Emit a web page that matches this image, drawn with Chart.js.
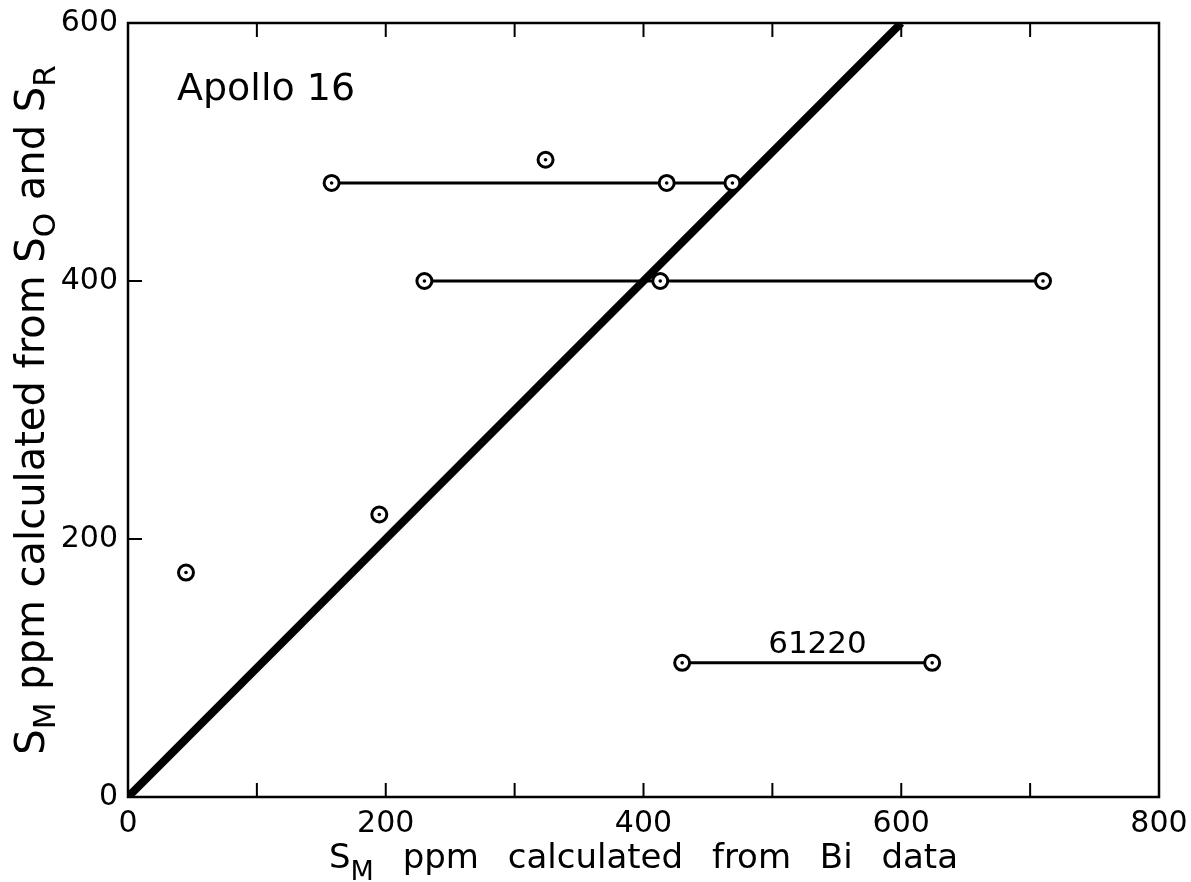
<!DOCTYPE html>
<html>
<head>
  <title>Apollo 16 - S_M comparison</title>
  <script src="https://cdn.jsdelivr.net/npm/chart.js"></script>
  <style>
    html, body { margin: 0; padding: 0; background: #fff; }
    #wrap { width: 1191px; height: 882px; }
  </style>
</head>
<body>
  <div id="wrap"><canvas id="smChart" width="1191" height="882"></canvas></div>

  <script>
    // values (ppm)
    const diagonalX = [0, 600];
    const diagonalY = [0, 600];

    const rowAX = [158, 418, 469];
    const rowAY = [476, 476, 476];

    const rowBX = [230, 413, 710];
    const rowBY = [400, 400, 400];

    const sample61220X = [430, 624];
    const sample61220Y = [104, 104];

    const singleX = [45, 195, 324];
    const singleY = [174, 219, 494];

    const xTickValues = [0, 100, 200, 300, 400, 500, 600, 700, 800];
    const yTickValues = [0, 200, 400, 600];

    const FONT = '"DejaVu Sans", sans-serif';

    function pts(xs, ys) {
      return xs.map((x, i) => ({ x: x, y: ys[i] }));
    }

    function ringSet(xs, ys, line) {
      return {
        data: pts(xs, ys),
        showLine: line,
        borderColor: '#000',
        borderWidth: 3,
        pointRadius: 7.5,
        pointBorderWidth: 3,
        pointBackgroundColor: '#fff',
        pointBorderColor: '#000',
        ringDots: true,
        order: 0
      };
    }

    // draw text with a subscript, word gaps widened by extraGap
    function richWidth(ctx, parts, size, subSize, extraGap) {
      let w = 0;
      parts.forEach(p => {
        ctx.font = (p.sub ? subSize : size) + 'px ' + FONT;
        p.text.split(' ').forEach((word, i) => {
          if (i > 0) w += ctx.measureText(' ').width + extraGap;
          w += ctx.measureText(word).width;
        });
      });
      return w;
    }

    function drawRich(ctx, parts, size, subSize, subDrop, extraGap) {
      let x = -richWidth(ctx, parts, size, subSize, extraGap) / 2;
      ctx.textAlign = 'left';
      ctx.textBaseline = 'alphabetic';
      parts.forEach(p => {
        ctx.font = (p.sub ? subSize : size) + 'px ' + FONT;
        p.text.split(' ').forEach((word, i) => {
          if (i > 0) x += ctx.measureText(' ').width + extraGap;
          ctx.fillText(word, x, p.sub ? subDrop : 0);
          x += ctx.measureText(word).width;
        });
      });
    }

    const framePlugin = {
      id: 'framePlugin',
      beforeDatasetsDraw(chart) {
        const ctx = chart.ctx;
        const a = chart.chartArea;
        const xs = chart.scales.x;
        const ys = chart.scales.y;
        ctx.save();
        ctx.strokeStyle = '#000';
        ctx.lineWidth = 2.5;
        ctx.strokeRect(a.left, a.top, a.right - a.left, a.bottom - a.top);
        ctx.lineWidth = 2;
        const len = 14;
        xTickValues.slice(1, -1).forEach(v => {
          const px = xs.getPixelForValue(v);
          ctx.beginPath();
          ctx.moveTo(px, a.bottom);
          ctx.lineTo(px, a.bottom - len);
          ctx.moveTo(px, a.top);
          ctx.lineTo(px, a.top + len);
          ctx.stroke();
        });
        yTickValues.slice(1, -1).forEach(v => {
          const py = ys.getPixelForValue(v);
          ctx.beginPath();
          ctx.moveTo(a.left, py);
          ctx.lineTo(a.left + len, py);
          ctx.stroke();
        });
        ctx.restore();
      },
      afterDatasetsDraw(chart) {
        const ctx = chart.ctx;
        ctx.save();
        ctx.fillStyle = '#000';
        chart.data.datasets.forEach((ds, i) => {
          if (!ds.ringDots) return;
          chart.getDatasetMeta(i).data.forEach(pt => {
            ctx.beginPath();
            ctx.arc(pt.x, pt.y, 1.8, 0, Math.PI * 2);
            ctx.fill();
          });
        });
        ctx.restore();
      },
      afterDraw(chart) {
        const ctx = chart.ctx;
        const a = chart.chartArea;
        const xs = chart.scales.x;
        const ys = chart.scales.y;
        ctx.save();
        ctx.fillStyle = '#000';

        // panel label
        ctx.font = '38px ' + FONT;
        ctx.textAlign = 'left';
        ctx.textBaseline = 'alphabetic';
        ctx.fillText('Apollo 16', a.left + 49, a.top + 77);

        // sample label
        ctx.font = '31px ' + FONT;
        ctx.textAlign = 'center';
        ctx.fillText('61220', xs.getPixelForValue(535), ys.getPixelForValue(112));

        // x title
        ctx.save();
        ctx.translate((a.left + a.right) / 2, 868);
        drawRich(ctx, [
          { text: 'S' }, { text: 'M', sub: true },
          { text: ' ppm calculated from Bi data' }
        ], 34, 27, 12, 18);
        ctx.restore();

        // y title
        ctx.save();
        ctx.translate(44, (a.top + a.bottom) / 2);
        ctx.rotate(-Math.PI / 2);
        drawRich(ctx, [
          { text: 'S' }, { text: 'M', sub: true },
          { text: ' ppm calculated from S' }, { text: 'O', sub: true },
          { text: ' and S' }, { text: 'R', sub: true }
        ], 40, 31, 11, 0);
        ctx.restore();

        ctx.restore();
      }
    };

    new Chart(document.getElementById('smChart').getContext('2d'), {
      type: 'scatter',
      data: {
        datasets: [
          {
            data: pts(diagonalX, diagonalY),
            showLine: true,
            borderColor: '#000',
            borderWidth: 8,
            borderCapStyle: 'butt',
            pointRadius: 0,
            order: 10
          },
          ringSet(rowAX, rowAY, true),
          ringSet(rowBX, rowBY, true),
          ringSet(sample61220X, sample61220Y, true),
          ringSet(singleX, singleY, false)
        ]
      },
      options: {
        responsive: false,
        animation: false,
        devicePixelRatio: 1,
        layout: { padding: { top: 23, right: 32, left: 0, bottom: 0 } },
        plugins: {
          legend: { display: false },
          tooltip: { enabled: false },
          title: { display: false }
        },
        scales: {
          x: {
            type: 'linear',
            min: 0,
            max: 800,
            afterFit: s => { s.height = 85; s.paddingLeft = 0; s.paddingRight = 0; },
            afterBuildTicks: s => { s.ticks = xTickValues.map(v => ({ value: v })); },
            grid: { display: false, drawTicks: false },
            border: { display: false },
            ticks: {
              autoSkip: false,
              maxRotation: 0,
              padding: 9,
              color: '#000',
              font: { family: FONT, size: 30 },
              callback: v => (v % 200 === 0 ? String(v) : '')
            }
          },
          y: {
            type: 'linear',
            min: 0,
            max: 600,
            afterFit: s => { s.width = 128; s.paddingTop = 0; s.paddingBottom = 0; },
            afterBuildTicks: s => { s.ticks = yTickValues.map(v => ({ value: v })); },
            grid: { display: false, drawTicks: false },
            border: { display: false },
            ticks: {
              padding: 10,
              color: '#000',
              font: { family: FONT, size: 30 },
              callback: v => String(v)
            }
          }
        }
      },
      plugins: [framePlugin]
    });
  </script>
</body>
</html>
